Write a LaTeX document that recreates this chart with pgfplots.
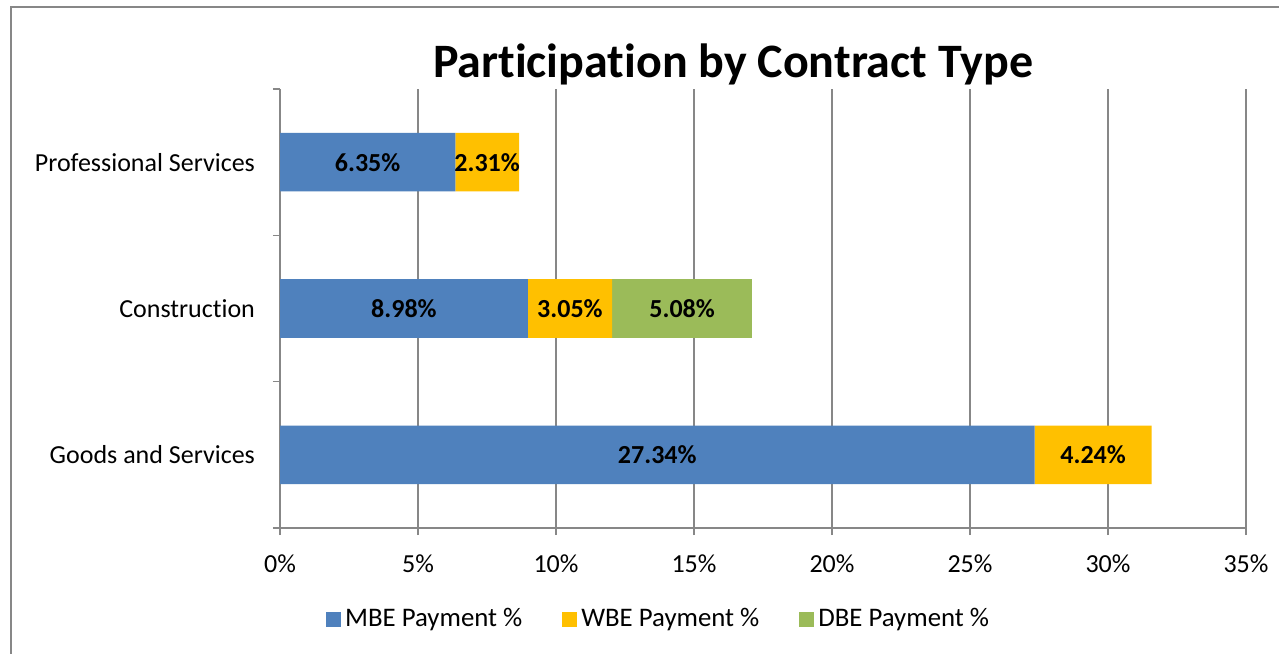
\documentclass[border=0pt]{standalone}
\usepackage{fontspec}
\setmainfont{Carlito}[Ligatures=NoCommon]
\usepackage{pgfplots}
\pgfplotsset{compat=1.18}
\definecolor{mbe}{HTML}{4F81BD}
\definecolor{wbe}{HTML}{FFC000}
\definecolor{dbe}{HTML}{9BBB59}
\definecolor{gridc}{HTML}{878787}
\begin{document}
\fontsize{13pt}{15.6pt}\selectfont
\begin{tikzpicture}
\path[use as bounding box, fill=white] (0,0) rectangle (639.5pt,-326.5pt);
\draw[gridc, line width=1pt] (5.5pt,-330pt) -- (5.5pt,-3.5pt) -- (645pt,-3.5pt);
\node[anchor=base, font=\fontsize{24pt}{28pt}\selectfont\bfseries] at (366.5pt,-38.5pt) {Participation by Contract Type};
\begin{axis}[
  at={(140pt,-264pt)}, anchor=south west,
  scale only axis, width=483pt, height=219.5pt,
  xbar stacked, bar width=0.4,
  xmin=0, xmax=35, ymin=-0.5, ymax=2.5,
  axis x line*=bottom, axis y line*=left,
  axis line style={gridc, line width=0.75pt, -},
  tick align=outside, major tick length=3.5pt,
  tick style={gridc, line width=0.75pt},
  xtick={0,5,...,35},
  xmajorgrids, grid style={gridc, line width=0.75pt},
  xticklabel={\pgfmathprintnumber{\tick}\%},
  xticklabel style={yshift=-5.5pt},
  ytick={-0.5,0.5,1.5,2.5}, yticklabels={},
  extra y ticks={0,1,2},
  extra y tick labels={Goods and Services,Construction,Professional Services},
  extra y tick style={major tick length=0pt, yticklabel style={anchor=east, xshift=-8pt}},
  /pgf/number format/assume math mode=true,
  ticklabel style={font=\fontsize{13pt}{15.6pt}\selectfont},
  visualization depends on={rawx \as \rawx},
  nodes near coords={\ifdim\rawx pt=0pt\else\pgfmathprintnumber[fixed,fixed zerofill,precision=2]{\rawx}\%\fi},
  every node near coord/.append style={anchor=center, black, font=\fontsize{13pt}{15.6pt}\selectfont\bfseries},
  legend columns=3,
  legend cell align=left,
  legend image code/.code={\fill[#1] (0pt,-3.75pt) rectangle (7.5pt,3.75pt);},
  legend style={at={(0.393,-0.2073)}, anchor=center, draw=none, fill=none,
    font=\fontsize{13.4pt}{16pt}\selectfont,
    /tikz/every even column/.append style={column sep=18pt}},
]
\addplot[fill=mbe, draw=none] coordinates {(27.34,0) (8.98,1) (6.35,2)};
\addlegendentry{MBE Payment \%}
\addplot[fill=wbe, draw=none] coordinates {(4.24,0) (3.05,1) (2.31,2)};
\addlegendentry{WBE Payment \%}
\addplot[fill=dbe, draw=none] coordinates {(0,0) (5.08,1) (0,2)};
\addlegendentry{DBE Payment \%}
\end{axis}
\end{tikzpicture}
\end{document}
